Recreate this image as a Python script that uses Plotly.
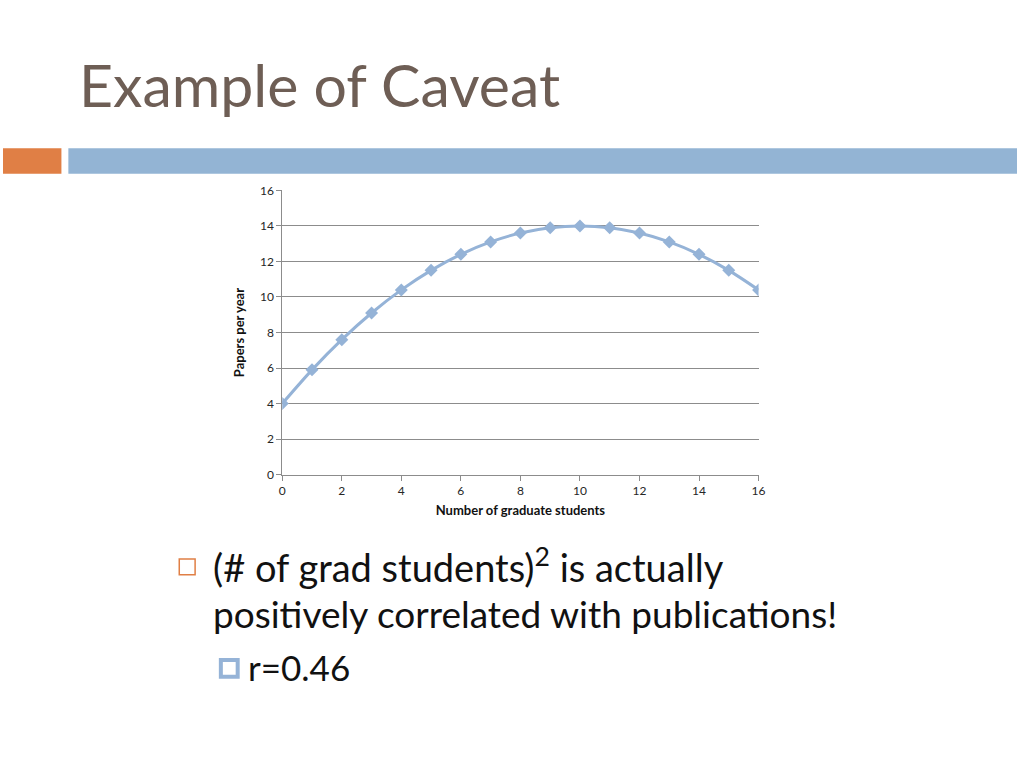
import plotly.graph_objects as go

students = [0, 1, 2, 3, 4, 5, 6, 7, 8, 9, 10, 11, 12, 13, 14, 15, 16]
papers = [4.0, 5.9, 7.6, 9.1, 10.4, 11.5, 12.4, 13.1, 13.6, 13.9, 14.0, 13.9, 13.6, 13.1, 12.4, 11.5, 10.4]
x_ticks = [0, 2, 4, 6, 8, 10, 12, 14, 16]
y_ticks = [0, 2, 4, 6, 8, 10, 12, 14, 16]

title_text = "Example of Caveat"
bullet1_line1 = "(# of grad students)<sup>2</sup> is actually"
bullet1_line2 = "positively correlated with publications!"
bullet2 = "r=0.46"

W, H = 1024, 768
def px(x):
    return x / W
def py(y):
    return 1 - y / H

FONT = "Lato, sans-serif"

fig = go.Figure()
fig.add_trace(go.Scatter(
    x=students, y=papers, mode="lines+markers",
    line=dict(color="#95B3D7", width=3, shape="spline", smoothing=0.8),
    marker=dict(symbol="diamond", size=10, color="#95B3D7"),
    showlegend=False, hoverinfo="skip",
))

axis_font = dict(family=FONT, size=12, color="#262626")
fig.update_layout(
    width=W, height=H,
    margin=dict(l=0, r=0, t=0, b=0),
    paper_bgcolor="white", plot_bgcolor="white",
    font=dict(family=FONT),
    xaxis=dict(
        domain=[px(282), px(763)], range=[0, 16],
        tickvals=x_ticks, ticktext=[str(v) for v in x_ticks],
        showgrid=False, zeroline=False,
        showline=True, linecolor="#8c8c8c", linewidth=1,
        ticks="outside", ticklen=5, tickcolor="#8c8c8c",
        tickfont=axis_font,
        title=dict(text="<b>Number of graduate students</b>", font=dict(family=FONT, size=13, color="#111"), standoff=8),
    ),
    yaxis=dict(
        domain=[py(476), py(186)], range=[0, 16],
        tickvals=y_ticks, ticktext=[str(v) for v in y_ticks],
        showgrid=True, gridcolor="#8c8c8c", gridwidth=1,
        zeroline=False,
        showline=True, linecolor="#8c8c8c", linewidth=1,
        ticks="outside", ticklen=5, tickcolor="#8c8c8c",
        tickfont=axis_font,
        title=dict(text="<b>Papers per year</b>", font=dict(family=FONT, size=13, color="#111"), standoff=12),
    ),
)

# decorative bars
fig.add_shape(type="rect", xref="paper", yref="paper", x0=px(0), x1=px(59), y0=py(169), y1=py(143),
              fillcolor="#E07F45", line=dict(width=0))
fig.add_shape(type="rect", xref="paper", yref="paper", x0=px(66), x1=px(1024), y0=py(169), y1=py(143),
              fillcolor="#93B4D4", line=dict(width=0))

# title
fig.add_annotation(text=title_text, xref="paper", yref="paper", x=px(75), y=py(78),
                   xanchor="left", yanchor="middle", showarrow=False,
                   font=dict(family=FONT, size=59, color="#6E5E55"))

# bullets
fig.add_shape(type="rect", xref="paper", yref="paper", x0=px(178), x1=px(194), y0=py(578), y1=py(562),
              fillcolor="white", line=dict(color="#E07F45", width=1.5))
fig.add_annotation(text=bullet1_line1, xref="paper", yref="paper", x=px(210), y=py(568),
                   xanchor="left", yanchor="middle", showarrow=False,
                   font=dict(family=FONT, size=38, color="#111"))
fig.add_annotation(text=bullet1_line2, xref="paper", yref="paper", x=px(210), y=py(618),
                   xanchor="left", yanchor="middle", showarrow=False,
                   font=dict(family=FONT, size=37, color="#111"))
fig.add_shape(type="rect", xref="paper", yref="paper", x0=px(220), x1=px(237), y0=py(682), y1=py(665),
              fillcolor="white", line=dict(color="#95B3D7", width=4))
fig.add_annotation(text=bullet2, xref="paper", yref="paper", x=px(245), y=py(672),
                   xanchor="left", yanchor="middle", showarrow=False,
                   font=dict(family=FONT, size=35, color="#111"))

fig.write_html("out.html", config={"displayModeBar": False},
               post_script="document.body.style.margin='0';document.body.style.overflow='hidden';")
